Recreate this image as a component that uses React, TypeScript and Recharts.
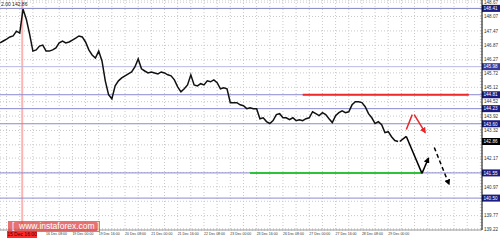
import { CartesianGrid, ComposedChart, Line, ReferenceLine, XAxis, YAxis } from "recharts";

// two-hour closes, 15 Dec .. 29 Dec
const closes = [
  146.97, 147.05, 147.13, 147.22, 147.26, 147.46, 147.38, 148.38, 147.96, 147.34,
  146.63, 146.68, 146.84, 146.88, 146.63, 146.63, 146.68, 146.76, 146.97, 147.05,
  146.97, 147.01, 147.09, 147.17, 147.26, 147.22, 147.01, 146.68, 146.47, 146.34,
  146.63, 146.22, 145.39, 144.81, 144.64, 145.18, 145.39, 145.51, 145.6, 145.68,
  145.76, 145.97, 146.3, 145.89, 145.8, 145.72, 145.76, 145.72, 145.68, 145.76,
  145.72, 145.64, 145.6, 145.43, 145.14, 144.93, 145.06, 145.22, 145.64, 145.22,
  145.18, 145.27, 145.22, 145.39, 145.35, 145.43, 145.31, 145.06, 145.1, 145.06,
  144.48, 144.48, 144.48, 144.39, 144.35, 144.23, 144.27, 144.23, 144.23, 143.81,
  143.85, 143.69, 143.61, 143.73, 143.98, 144.02, 143.85, 143.85, 143.77, 143.85,
  143.73, 143.77, 143.73, 143.81, 143.85, 144.1, 144.02, 143.94, 144.06, 143.98,
  143.81, 143.65, 143.94, 144.06, 144.14, 144.06, 144.1, 144.39, 144.52, 144.52,
  144.48, 144.31, 144.02, 143.85, 143.61, 143.69, 143.56, 143.23, 143.27, 143.06,
  142.9, 142.86,
];

const priceTicks = [
  148.67, 148.07, 147.47, 146.87, 146.27, 145.72, 145.12, 144.52, 143.92,
  143.32, 142.72, 142.17, 141.57, 140.97, 140.37, 139.77, 139.22,
];

const timeLabels = [
  "16 Dec 08:00", "19 Dec 00:00", "19 Dec 16:00", "20 Dec 08:00", "21 Dec 00:00",
  "21 Dec 16:00", "22 Dec 08:00", "23 Dec 00:00", "23 Dec 16:00", "26 Dec 08:00",
  "27 Dec 00:00", "27 Dec 16:00", "28 Dec 08:00", "29 Dec 00:00",
];
const cursorLabel = "15 Dec 16:00";

const levels = [148.41, 145.98, 144.81, 144.23, 143.6, 141.55, 140.5];
const levelColors = ["#8484c4", "#b8b8e4", "#8a8ad0", "#8a8ad0", "#8a8ad0", "#8a8ad0", "#8a8ad0"];
const lastPrice = 142.86;

const resistance = [{ x: 184, y: 144.81 }, { x: 285, y: 144.81 }];
const support = [{ x: 152, y: 141.55 }, { x: 256, y: 141.55 }];

const blackPath = [
  [{ x: 243, y: 142.86 }, { x: 247, y: 143.07 }],
  [{ x: 247, y: 143.07 }, { x: 256.5, y: 141.53 }],
];
const blackArrow = [{ x: 256.5, y: 141.53 }, { x: 260.5, y: 142.17 }];
const dashedArrow = [{ x: 264, y: 142.61 }, { x: 273, y: 141.07 }];
const redLeg = [{ x: 247, y: 143.36 }, { x: 250.6, y: 143.98 }];
const redArrow = [{ x: 251.8, y: 143.98 }, { x: 258.5, y: 143.23 }];

const data = closes.map((close, i) => ({ hour: i * 2, close }));
const gridHours = Array.from({ length: 37 }, (_, i) => 4 + i * 8);
const tagValues = [...levels, lastPrice];

const FONT = "'Liberation Sans', Arial, sans-serif";

function TimeTick({ x, y, payload }: any) {
  const idx = (payload.value - 12) / 16 - 1;
  if (!Number.isInteger(idx) || idx < 0 || idx >= timeLabels.length) return <g />;
  return (
    <text
      x={x}
      y={y + 5}
      textAnchor="start"
      fontSize={4}
      fontFamily={FONT}
      fill="#333"
      textLength={21}
      lengthAdjust="spacingAndGlyphs"
    >
      {timeLabels[idx]}
    </text>
  );
}

function PriceTick({ x, y, payload }: any) {
  // the level tags cover the price ticks they sit on
  if (tagValues.some((t) => Math.abs(t - payload.value) < 0.17)) return <g />;
  return (
    <text
      x={x}
      y={y}
      dy="0.35em"
      textAnchor="start"
      fontSize={5}
      fontFamily={FONT}
      fill="#333"
      textLength={14}
      lengthAdjust="spacingAndGlyphs"
    >
      {payload.value.toFixed(2)}
    </text>
  );
}

function Tag({ viewBox, text, bg }: any) {
  const left = viewBox.x + viewBox.width;
  return (
    <g>
      <rect x={left} y={viewBox.y - 3.5} width={18} height={7} fill={bg} />
      <text
        x={left + 1.5}
        y={viewBox.y}
        dy="0.35em"
        fontSize={5}
        fontFamily={FONT}
        fill="#fff"
        textLength={14}
        lengthAdjust="spacingAndGlyphs"
      >
        {text}
      </text>
    </g>
  );
}

const arrowLine = (marker: string, dash?: string) => (p: any) =>
  (
    <line
      x1={p.x1}
      y1={p.y1}
      x2={p.x2}
      y2={p.y2}
      stroke={p.stroke}
      strokeWidth={p.strokeWidth}
      strokeDasharray={dash}
      markerEnd={`url(#${marker})`}
    />
  );

export default function App() {
  return (
    <div style={{ position: "absolute", left: 0, top: 0, width: 500, height: 240, background: "#fff" }}>
      <ComposedChart width={500} height={240} data={data} margin={{ top: 0, right: 0, bottom: 0, left: 0 }}>
        <defs>
          <marker id="headBlack" markerWidth="6" markerHeight="6" refX="5" refY="3" orient="auto" markerUnits="userSpaceOnUse">
            <path d="M0,0 L6,3 L0,6 z" fill="#000" />
          </marker>
          <marker id="headRed" markerWidth="6" markerHeight="6" refX="5" refY="3" orient="auto" markerUnits="userSpaceOnUse">
            <path d="M0,0 L6,3 L0,6 z" fill="#e8262a" />
          </marker>
        </defs>
        <CartesianGrid stroke="#c8c8c8" strokeDasharray="1 2" />
        <XAxis
          dataKey="hour"
          type="number"
          domain={[0, 293]}
          ticks={gridHours}
          interval={0}
          height={10}
          tickLine={false}
          tickSize={0}
          tickMargin={0}
          axisLine={{ stroke: "#999" }}
          tick={<TimeTick />}
        />
        <YAxis
          orientation="right"
          domain={[139.17, 148.76]}
          ticks={priceTicks}
          interval={0}
          width={18}
          tickLine={false}
          tickSize={0}
          tickMargin={2}
          axisLine={{ stroke: "#000" }}
          tick={<PriceTick />}
        />
        <ReferenceLine x={13.5} stroke="#ffb4b4" strokeWidth={2} />
        {levels.map((v, i) => (
          <ReferenceLine
            key={v}
            y={v}
            stroke={levelColors[i]}
            strokeWidth={1}
            label={<Tag text={v.toFixed(2)} bg={i === 1 ? "#3a3a9a" : "#1c1c82"} />}
          />
        ))}
        <ReferenceLine y={lastPrice} stroke="none" label={<Tag text={lastPrice.toFixed(2)} bg="#000" />} />
        <ReferenceLine segment={resistance} stroke="#ee2a2a" strokeWidth={2} />
        <ReferenceLine segment={support} stroke="#2cc23a" strokeWidth={2} />
        <Line
          dataKey="close"
          type="linear"
          stroke="#111"
          strokeWidth={1.5}
          dot={false}
          activeDot={false}
          isAnimationActive={false}
        />
        {blackPath.map((seg, i) => (
          <ReferenceLine key={i} segment={seg} stroke="#000" strokeWidth={1.5} />
        ))}
        <ReferenceLine segment={blackArrow} stroke="#000" strokeWidth={1.5} shape={arrowLine("headBlack")} />
        <ReferenceLine segment={dashedArrow} stroke="#000" strokeWidth={1.5} shape={arrowLine("headBlack", "4 3")} />
        <ReferenceLine segment={redLeg} stroke="#e8262a" strokeWidth={1.5} />
        <ReferenceLine segment={redArrow} stroke="#e8262a" strokeWidth={1.5} shape={arrowLine("headRed")} />
      </ComposedChart>
      <div style={{ position: "absolute", left: 1, top: 1, fontSize: 5, lineHeight: "6px", fontFamily: FONT, color: "#222" }}>
        2.00 142.86
      </div>
      <div
        style={{
          position: "absolute",
          left: 8,
          top: 221,
          width: 92,
          height: 11,
          background: "rgba(222,60,60,0.72)",
          color: "#fff",
          fontSize: 8.5,
          lineHeight: "11px",
          fontFamily: FONT,
          whiteSpace: "pre",
          paddingLeft: 4,
          boxSizing: "border-box",
        }}
      >
        {"[  www.instaforex.com ]"}
      </div>
      <div
        style={{
          position: "absolute",
          left: 7,
          top: 231,
          width: 30,
          height: 7,
          background: "#ff2a2a",
          color: "#400",
          fontSize: 5,
          lineHeight: "7px",
          fontFamily: FONT,
          textAlign: "center",
          whiteSpace: "nowrap",
        }}
      >
        {cursorLabel}
      </div>
    </div>
  );
}
